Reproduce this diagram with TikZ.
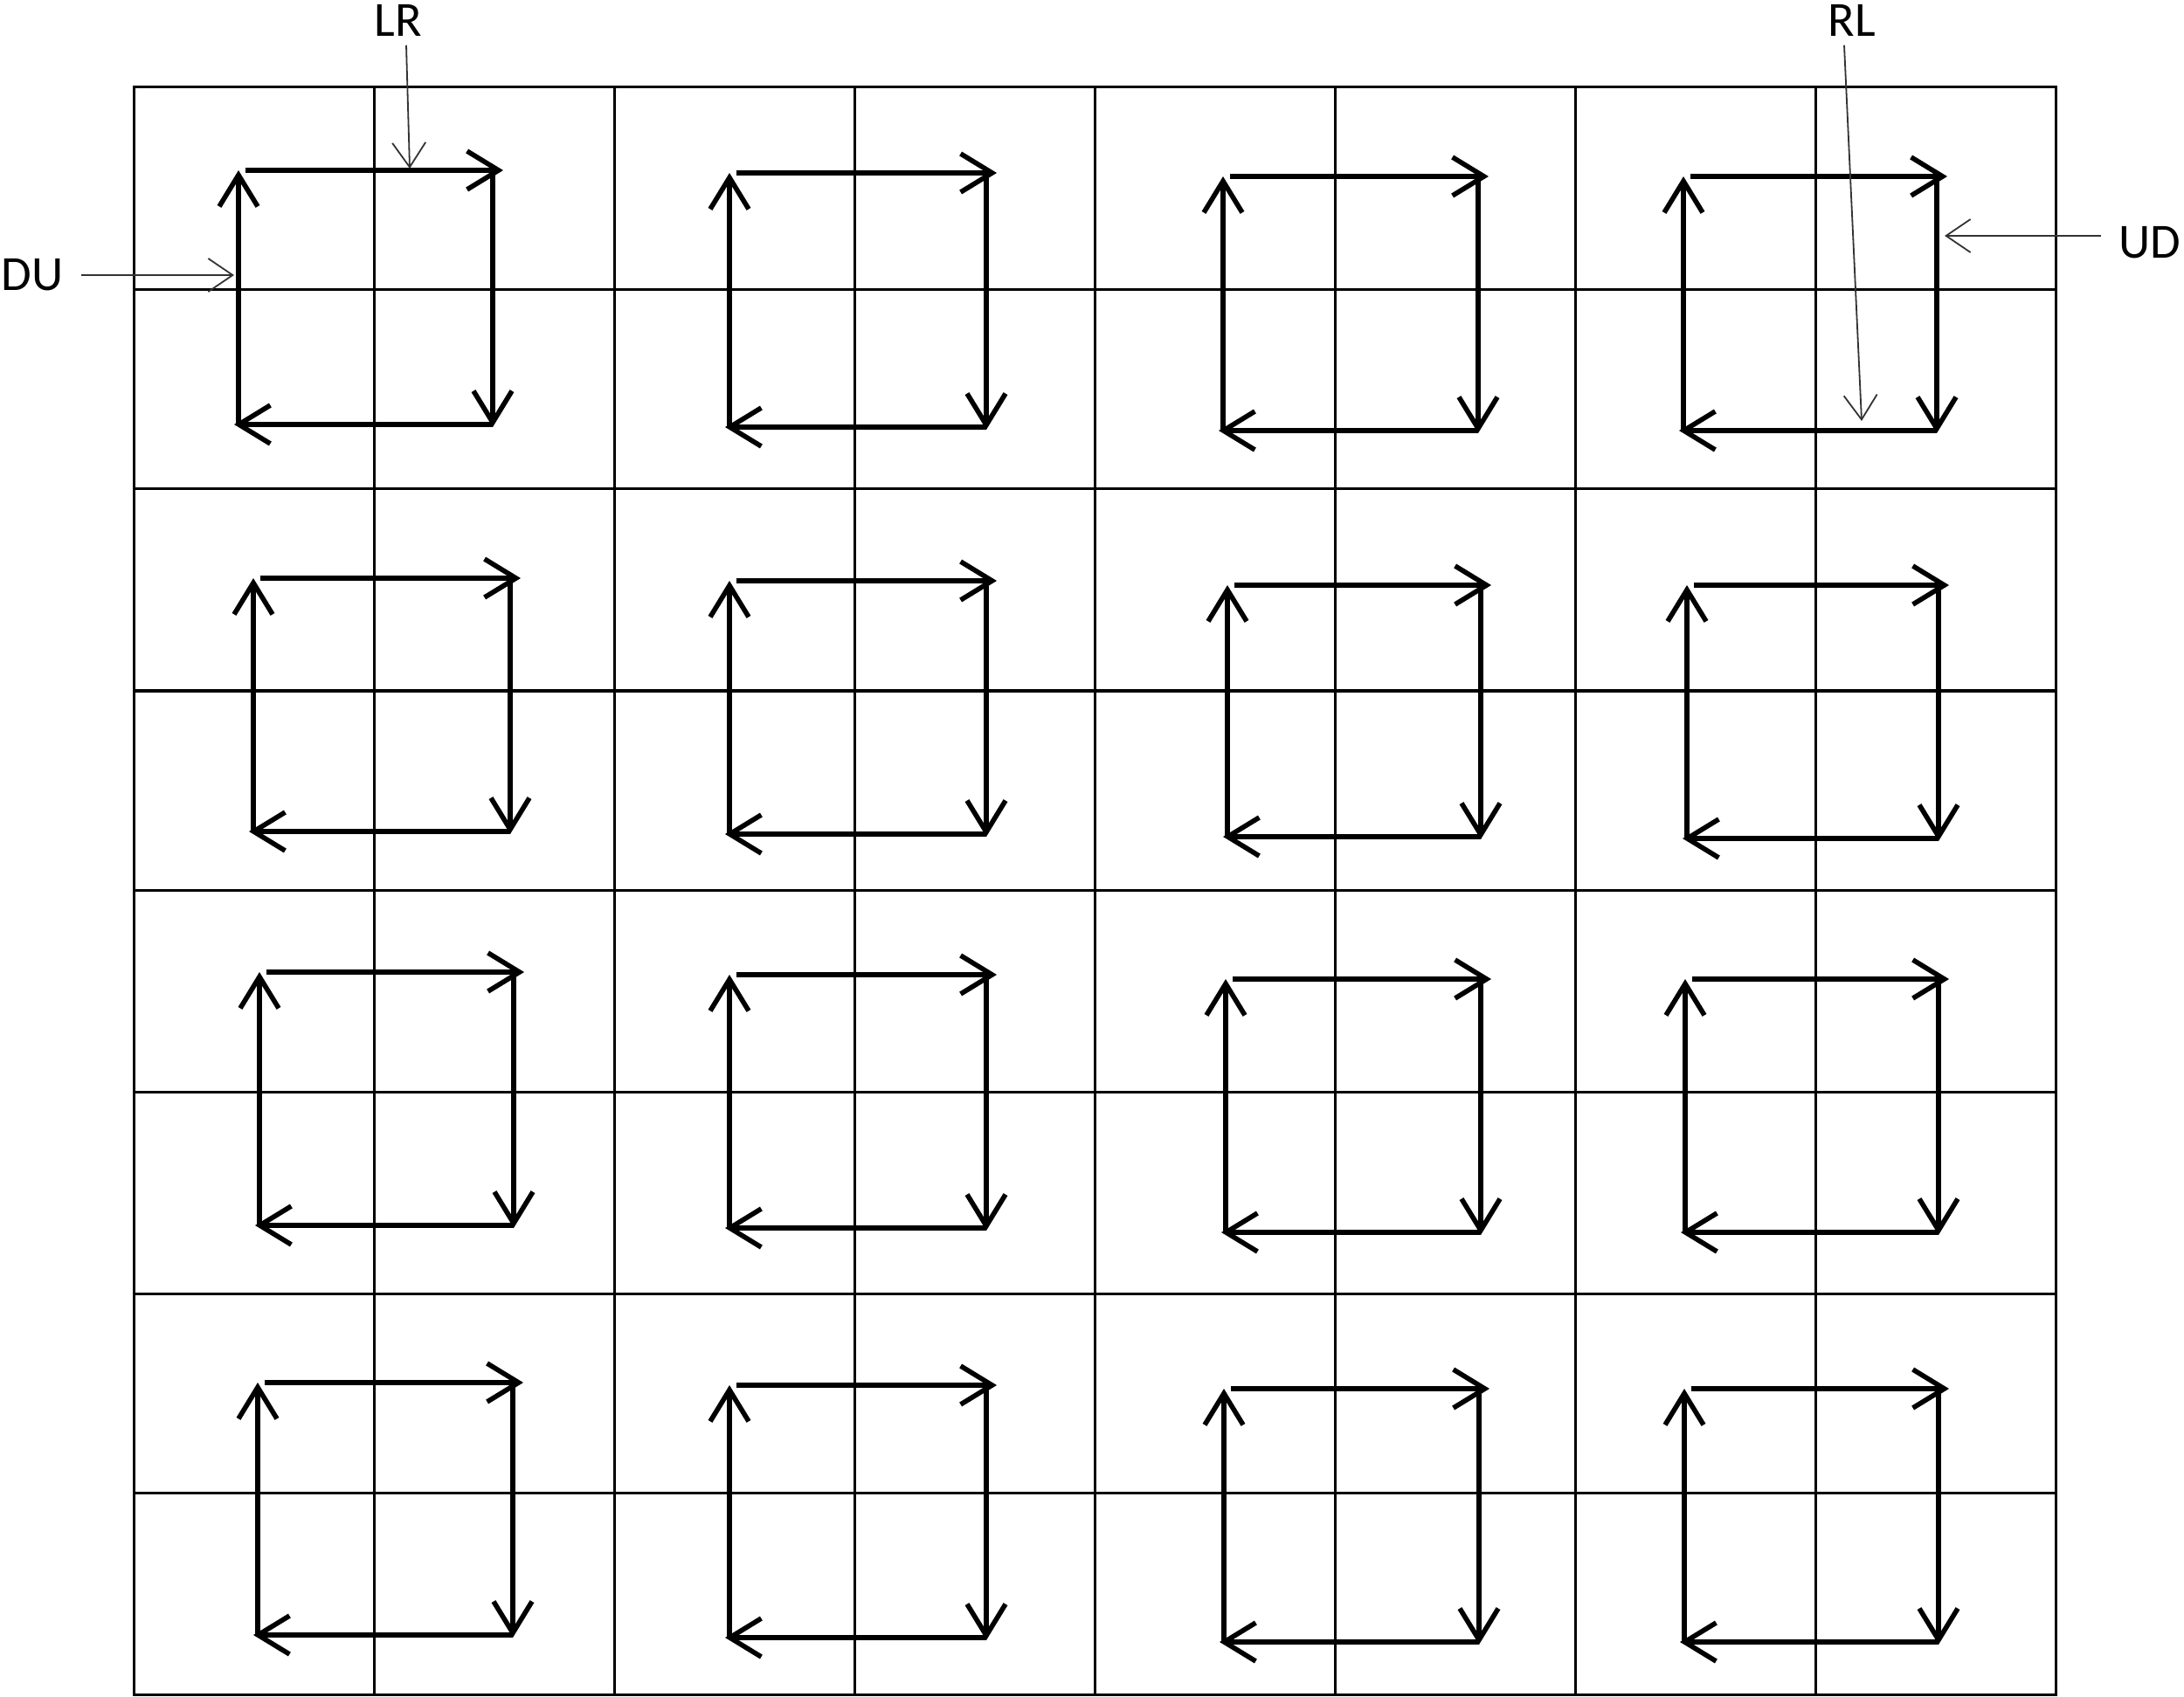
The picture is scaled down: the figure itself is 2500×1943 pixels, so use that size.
\documentclass[tikz,border=0pt]{standalone}
\usepackage{fontspec}
\setmainfont{Carlito}
\usetikzlibrary{arrows.meta}

% one clockwise loop of four arrows: name, left, right, top, bottom
\newcommand{\loopbox}[5]{%
  \coordinate (#1-nw) at (#2,#4);
  \coordinate (#1-ne) at (#3,#4);
  \coordinate (#1-se) at (#3,#5);
  \coordinate (#1-sw) at (#2,#5);
  \draw[flow] (#1-sw) -- (#1-nw);
  \draw[flow] ([xshift=0.08cm]#1-nw) -- ([xshift=0.12cm]#1-ne);
  \draw[flow] (#1-ne) -- ([yshift=-0.03cm]#1-se);
  \draw[flow] (#1-se) -- ([xshift=-0.05cm]#1-sw);
}

\begin{document}
\begin{tikzpicture}[
  x=0.01cm, y=-0.01cm,
  cellgrid/.style={line width=0.03cm, black},
  flow/.style    ={line width=0.056cm, -{Straight Barb[length=0.36cm, width=0.44cm]}},
  callout/.style ={line width=0.018cm, black!80,
                   -{Straight Barb[length=0.28cm, width=0.38cm]}},
  tag/.style     ={font=\fontsize{16}{19}\selectfont, inner sep=0.1cm}
]
\useasboundingbox (0,0) rectangle (2500,1943);

% grid
\draw[cellgrid] (153,100) rectangle (2353,1940);
\foreach \gx in {428,703,978,1253,1528,1803,2078}
  \draw[cellgrid] (\gx,100) -- (\gx,1940);
\foreach \gy in {332,560,791,1019,1250,1481,1709}
  \draw[cellgrid] (153,\gy) -- (2353,\gy);

% loops, row by row
\loopbox{sq11}{273}{564}{195}{486}
\loopbox{sq12}{835}{1129}{198}{489}
\loopbox{sq13}{1400}{1692}{202}{493}
\loopbox{sq14}{1927}{2217}{202}{493}

\loopbox{sq21}{290}{584}{662}{952}
\loopbox{sq22}{835}{1129}{665}{955}
\loopbox{sq23}{1405}{1695}{670}{958}
\loopbox{sq24}{1931}{2219}{670}{960}

\loopbox{sq31}{297}{588}{1113}{1403}
\loopbox{sq32}{835}{1129}{1116}{1406}
\loopbox{sq33}{1403}{1695}{1121}{1411}
\loopbox{sq34}{1929}{2219}{1121}{1411}

\loopbox{sq41}{295}{587}{1583}{1872}
\loopbox{sq42}{835}{1129}{1586}{1875}
\loopbox{sq43}{1401}{1693}{1590}{1880}
\loopbox{sq44}{1928}{2219}{1590}{1880}

% direction labels
\node[tag] (lr) at (456,23) {LR};
\coordinate (lr-tip) at (469,193);
\draw[callout] ([xshift=0.09cm]lr.south) -- (lr-tip);

\node[tag] (rl) at (2120,23) {RL};
\coordinate (rl-tip) at (2131,482);
\draw[callout] ([xshift=-0.09cm]rl.south) -- (rl-tip);

\node[tag, inner xsep=0.2cm] (du) at (37,315) {DU};
\coordinate (du-tip) at (268,315);
\draw[callout] (du) -- (du-tip);

\node[tag, inner xsep=0.2cm] (ud) at (2461,278) {UD};
\coordinate (ud-tip) at (2226,270);
\draw[callout] (ud.west |- ud-tip) -- (ud-tip);
\end{tikzpicture}
\end{document}
